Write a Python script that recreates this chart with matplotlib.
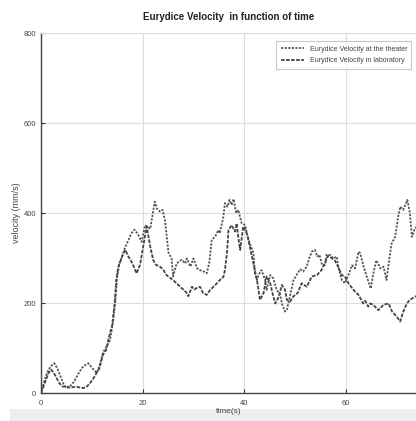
import matplotlib
matplotlib.use("Agg")
import matplotlib.pyplot as plt
from matplotlib.patches import Rectangle

plt.rcParams['font.family'] = ['Liberation Sans', 'DejaVu Sans']

# Eurydice velocity, theater run (time in s, velocity in mm/s)
t_theater = [0, 0.6, 1.2, 1.8, 2.6, 3.2, 3.9, 4.5, 5.0, 5.7, 6.5, 7.2, 8.0, 8.7, 9.3, 9.9, 10.5, 11.0,
             11.5, 12.2, 13.0, 13.6, 14.2, 14.6, 15.0, 15.5, 16.0, 16.5, 17.2, 17.8, 18.4, 19.1, 19.8,
             20.5, 21.5, 22.4, 22.8, 23.4, 23.9, 24.4, 25.1, 25.7, 26.0, 26.7, 27.7, 28.4, 28.7, 29.4,
             30.0, 30.7, 31.3, 32.0, 32.6, 33.1, 33.6, 34.3, 34.9, 35.2, 35.9, 36.2, 36.7, 37.1, 37.5,
             37.9, 38.4, 38.8, 39.5, 40.2, 40.5, 41.1, 41.8, 42.1, 42.5, 42.8, 43.4, 44.1, 44.4, 45.1,
             45.7, 46.4, 47.1, 47.4, 48.0, 48.4, 49.0, 49.7, 50.3, 51.0, 51.6, 52.3, 52.8, 53.3, 53.9,
             54.4, 54.8, 55.3, 55.9, 56.2, 56.9, 57.5, 58.2, 58.5, 59.2, 59.8, 60.5, 61.2, 61.8, 62.5,
             62.8, 63.5, 64.1, 64.9, 65.4, 66.0, 66.8, 67.4, 68.0, 68.7, 69.0, 69.7, 70.3, 70.7, 71.3,
             72.1, 72.6, 73.0, 73.6, 74.0]
v_theater = [0, 25, 45, 58, 66, 55, 35, 18, 11, 15, 25, 40, 55, 62, 66, 58, 50, 45,
             60, 90, 105, 118, 160, 200, 260, 290, 305, 322, 340, 355, 363, 352, 336,
             373, 365, 425, 410, 403, 407, 384, 311, 299, 259, 288, 296, 288, 299, 281,
             299, 277, 273, 270, 266, 288, 340, 348, 362, 355, 392, 422, 414, 429, 418,
             431, 400, 407, 377, 373, 355, 332, 311, 266, 251, 262, 273, 251, 229, 262,
             255, 229, 218, 199, 181, 185, 215, 251, 262, 275, 270, 281, 300, 314, 318,
             303, 307, 285, 284, 307, 307, 299, 303, 281, 251, 244, 262, 284, 277, 314,
             311, 281, 259, 232, 266, 295, 277, 281, 251, 310, 332, 347, 392, 414, 407,
             429, 400, 347, 366, 370]

# Eurydice velocity, laboratory run
t_lab = [0, 0.5, 1.0, 1.5, 2.0, 2.5, 3.0, 3.6, 4.3, 5.0, 5.6, 6.3, 7.0, 7.7, 8.3, 8.9, 9.5, 10.2,
         11.0, 11.5, 12.2, 12.8, 13.4, 14.0, 14.5, 14.8, 15.2, 15.7, 16.2, 16.6, 17.2, 17.8, 18.3,
         18.8, 19.5, 20.1, 20.8, 21.2, 21.5, 22.1, 22.6, 23.4, 24.0, 24.7, 26.0, 27.4, 28.2, 28.7,
         29.0, 29.7, 30.2, 30.6, 31.3, 31.9, 32.6, 33.3, 34.3, 35.2, 35.9, 36.2, 36.6, 36.9, 37.5,
         38.2, 38.5, 38.9, 39.2, 39.8, 40.5, 41.1, 41.8, 42.5, 43.1, 43.8, 44.4, 45.1, 45.6, 46.1,
         46.8, 47.4, 48.0, 48.4, 49.0, 49.7, 50.5, 51.3, 52.3, 53.3, 54.3, 55.2, 55.9, 56.5, 57.2,
         57.8, 58.5, 59.2, 59.8, 60.5, 61.5, 62.5, 63.4, 63.8, 64.4, 64.8, 65.4, 66.4, 67.4, 68.4,
         69.1, 70.0, 70.7, 71.3, 72.0, 72.6, 73.6, 74.0]
v_lab = [0, 15, 30, 45, 52, 45, 35, 22, 14, 15, 12, 13, 14, 12, 11, 13, 20, 30,
         46, 55, 85, 95, 125, 150, 200, 250, 280, 295, 310, 318, 303, 292, 280,
         266, 285, 325, 370, 345, 325, 295, 285, 281, 275, 262, 251, 236, 228, 222,
         215, 236, 230, 233, 236, 222, 218, 229, 240, 251, 258, 273, 311, 362, 373,
         359, 377, 340, 318, 370, 355, 325, 288, 251, 207, 222, 259, 244, 220, 199,
         214, 240, 230, 207, 203, 215, 222, 244, 236, 259, 262, 273, 290, 305, 300,
         295, 280, 262, 259, 244, 229, 218, 199, 205, 192, 199, 196, 184, 196, 199,
         181, 170, 159, 181, 199, 207, 214, 216]

x_ticks = [0, 20, 40, 60]
y_ticks = [0, 200, 400, 600, 800]

fig = plt.figure(figsize=(4.16, 4.21), dpi=100)

# light grey strip along the bottom edge, kept behind everything
strip = Rectangle((10 / 416, 0), 1, 12 / 421, transform=fig.transFigure,
                  facecolor='#ededed', edgecolor='none', zorder=-10)
fig.patches.append(strip)

ax = fig.add_axes([41 / 416, 28 / 421, 376 / 416, 360 / 421])
ax.set_facecolor('white')

ax.plot(t_theater, v_theater, color='#555555', linestyle=(0, (1.2, 0.8)), linewidth=1.3,
        label='Eurydice Velocity at the theater')
ax.plot(t_lab, v_lab, color='#444444', linestyle=(0, (2.0, 0.8)), linewidth=1.3,
        label='Eurydice Velocity in laboratory')

ax.set_xlim(0, 74)
ax.set_ylim(0, 800)
ax.set_xticks(x_ticks)
ax.set_yticks(y_ticks)
ax.grid(True, color='#dddddd', linewidth=0.8)
ax.tick_params(direction='in', length=3, labelsize=5.5, labelcolor='#444444', color='#333333')
ax.tick_params(axis='x', pad=5)

for side in ['top', 'right']:
    ax.spines[side].set_color('#dddddd')
for side in ['left', 'bottom']:
    ax.spines[side].set_color('#444444')
    ax.spines[side].set_linewidth(1.0)

ax.set_title('Eurydice Velocity  in function of time', fontsize=7, fontweight='bold',
             color='#222222', pad=9)
ax.set_xlabel('time(s)', fontsize=6, color='#444444', labelpad=1)
ax.set_ylabel('velocity (mm/s)', fontsize=6.5, color='#444444', labelpad=2)

leg = ax.legend(loc='upper left', bbox_to_anchor=(232 / 376, 1 - 5 / 360), fontsize=5,
                frameon=True, fancybox=False, handlelength=3.4, borderpad=0.6,
                labelspacing=0.7)
leg.get_frame().set_edgecolor('#bbbbbb')
leg.get_frame().set_linewidth(0.8)
for txt in leg.get_texts():
    txt.set_color('#444444')

fig.savefig('out.png', dpi=100)
